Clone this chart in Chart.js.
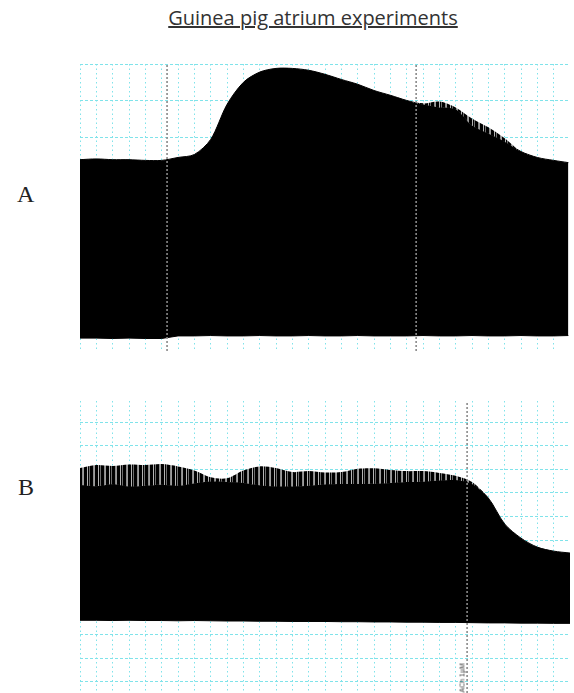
<!DOCTYPE html>
<html>
<head>
<meta charset="utf-8">
<title>Guinea pig atrium experiments</title>
<script src="https://cdn.jsdelivr.net/npm/chart.js@4.4.1/dist/chart.umd.min.js"></script>
<style>
    body { margin: 0; background: #fff; width: 574px; height: 693px; position: relative; overflow: hidden; }
    .title { position: absolute; left: 0; width: 626px; top: 4px; text-align: center;
             font-family: 'Open Sans', sans-serif; font-size: 20px; color: #333; text-decoration: underline; }
    .panel-label { position: absolute; font-family: 'Liberation Serif', serif; font-size: 24px; color: #222; }
    .box { position: absolute; left: 80px; width: 490px; }
    .drug { position: absolute; left: 444px; top: 671px; width: 36px; font-family: 'Liberation Sans', sans-serif;
            font-size: 7px; color: #333; transform: rotate(-90deg); white-space: nowrap; }
</style>
</head>
<body>
<div class="title">Guinea pig atrium experiments</div>
<div class="panel-label" style="left:17px; top:181px;">A</div>
<div class="panel-label" style="left:18px; top:474px;">B</div>
<div class="box" style="top:64px; height:287px;"><canvas id="traceA"></canvas></div>
<div class="box" style="top:401px; height:292px;"><canvas id="traceB"></canvas></div>
<div class="drug">ACh 1µM</div>

<script>
// time axis in grid divisions
const timeA = [0, 1, 2, 3, 4, 5, 6, 7, 8, 9, 10, 11, 12, 13, 14, 15, 16, 17, 18, 19, 20, 21, 22, 23, 24, 25, 26, 27, 28, 29, 29.9];
const timeB = [0, 1, 2, 3, 4, 5, 6, 7, 8, 9, 10, 11, 12, 13, 14, 15, 16, 17, 18, 19, 20, 21, 22, 23, 24, 25, 26, 27, 28, 29, 30];

// panel A envelope (contraction amplitude, grid units)
const topA   = [5.40, 5.42, 5.40, 5.40, 5.38, 5.38, 5.46, 5.54, 5.95, 6.90, 7.50, 7.78, 7.88, 7.88, 7.83, 7.72,
                7.58, 7.45, 7.28, 7.15, 7.01, 6.90, 6.82, 6.77, 6.33, 6.11, 5.89, 5.62, 5.46, 5.38, 5.32];
const spikeA = [5.40, 5.42, 5.40, 5.40, 5.38, 5.38, 5.46, 5.54, 5.95, 6.90, 7.50, 7.78, 7.88, 7.88, 7.83, 7.72,
                7.58, 7.45, 7.28, 7.15, 7.01, 6.93, 6.98, 6.82, 6.52, 6.28, 5.98, 5.62, 5.46, 5.38, 5.32];
const baseA  = [0.55, 0.55, 0.54, 0.55, 0.54, 0.54, 0.61, 0.61, 0.62, 0.61, 0.61, 0.62, 0.61, 0.61, 0.62, 0.61,
                0.61, 0.62, 0.61, 0.61, 0.61, 0.62, 0.61, 0.61, 0.62, 0.61, 0.61, 0.62, 0.61, 0.61, 0.62];
const markersA = [5.33, 20.58];

// panel B envelope
const topB   = [8.33, 8.28, 8.36, 8.27, 8.30, 8.34, 8.30, 8.40, 8.48, 8.46, 8.42, 8.32, 8.27, 8.27, 8.30, 8.35,
                8.37, 8.37, 8.38, 8.42, 8.46, 8.47, 8.52, 8.54, 8.37, 7.78, 6.68, 6.08, 5.70, 5.53, 5.45];
const spikeB = [9.05, 9.18, 9.14, 9.20, 9.18, 9.22, 9.12, 8.95, 8.66, 8.62, 8.95, 9.12, 9.05, 8.88, 8.92, 8.86,
                8.88, 9.02, 9.04, 8.97, 8.92, 8.92, 8.84, 8.72, 8.46, 7.78, 6.68, 6.08, 5.70, 5.53, 5.45];
const baseB  = [2.60, 2.60, 2.59, 2.60, 2.59, 2.59, 2.58, 2.59, 2.58, 2.57, 2.57, 2.56, 2.56, 2.55, 2.55, 2.55,
                2.54, 2.54, 2.53, 2.53, 2.52, 2.52, 2.51, 2.51, 2.50, 2.49, 2.49, 2.48, 2.48, 2.47, 2.47];
const markersB = [23.70];

const gridColor = '#7fe3ea';

function stripePattern() {
    // vertical striping to mimic the individual beats poking above the envelope
    const c = document.createElement('canvas');
    c.width = 11; c.height = 1;
    const p = c.getContext('2d');
    const cols = ['#000', '#000', '#8a8a8a', '#9c9c9c', '#000', '#000', '#000', '#b4b4b4', '#000', '#6e6e6e', '#000'];
    cols.forEach(function (col, i) { p.fillStyle = col; p.fillRect(i, 0, 1, 1); });
    return p.createPattern(c, 'repeat');
}

function pts(xs, ys) {
    return xs.map(function (x, i) { return { x: x, y: ys[i] }; });
}

function drawTrace(id, times, base, top, spike, markers, yMin, yMax, xMax) {
    const ctx = document.getElementById(id).getContext('2d');

    const markerSets = markers.map(function (m) {
        return {
            data: [{ x: m, y: yMin }, { x: m, y: yMax }],
            borderColor: '#8a8a8a',
            borderWidth: 1.6,
            borderDash: [2, 2],
            pointRadius: 0,
            fill: false,
            order: 0
        };
    });

    new Chart(ctx, {
        type: 'line',
        data: {
            datasets: [
                {
                    data: pts(times, base),
                    borderColor: '#000',
                    borderWidth: 1,
                    pointRadius: 0,
                    fill: false,
                    order: 3
                },
                {
                    data: pts(times, top),
                    borderColor: '#000',
                    borderWidth: 1,
                    backgroundColor: '#000',
                    pointRadius: 0,
                    tension: 0.3,
                    fill: '-1',
                    order: 2
                },
                {
                    data: pts(times, spike),
                    borderWidth: 0,
                    borderColor: 'rgba(0,0,0,0)',
                    backgroundColor: stripePattern(),
                    pointRadius: 0,
                    tension: 0.3,
                    fill: '-1',
                    order: 1
                }
            ].concat(markerSets)
        },
        options: {
            responsive: true,
            maintainAspectRatio: false,
            animation: false,
            layout: { padding: 0 },
            plugins: {
                legend: { display: false },
                tooltip: { enabled: false },
                title: { display: false }
            },
            scales: {
                x: {
                    type: 'linear',
                    min: 0,
                    max: xMax,
                    ticks: { display: false, stepSize: 1, includeBounds: false },
                    grid: { color: gridColor, lineWidth: 1, drawTicks: false },
                    border: { display: false, dash: [1.5, 3] }
                },
                y: {
                    min: yMin,
                    max: yMax,
                    ticks: { display: false, stepSize: 1, includeBounds: false },
                    grid: { color: gridColor, lineWidth: 1, drawTicks: false },
                    border: { display: false, dash: [3, 2] }
                }
            }
        }
    });
}

document.addEventListener("DOMContentLoaded", function () {
    drawTrace('traceA', timeA, baseA, topA, spikeA, markersA, 0.2, 8.0, 30);
    drawTrace('traceB', timeB, baseB, topB, spikeB, markersB, -0.48, 11.89, 30);
});
</script>
</body>
</html>
